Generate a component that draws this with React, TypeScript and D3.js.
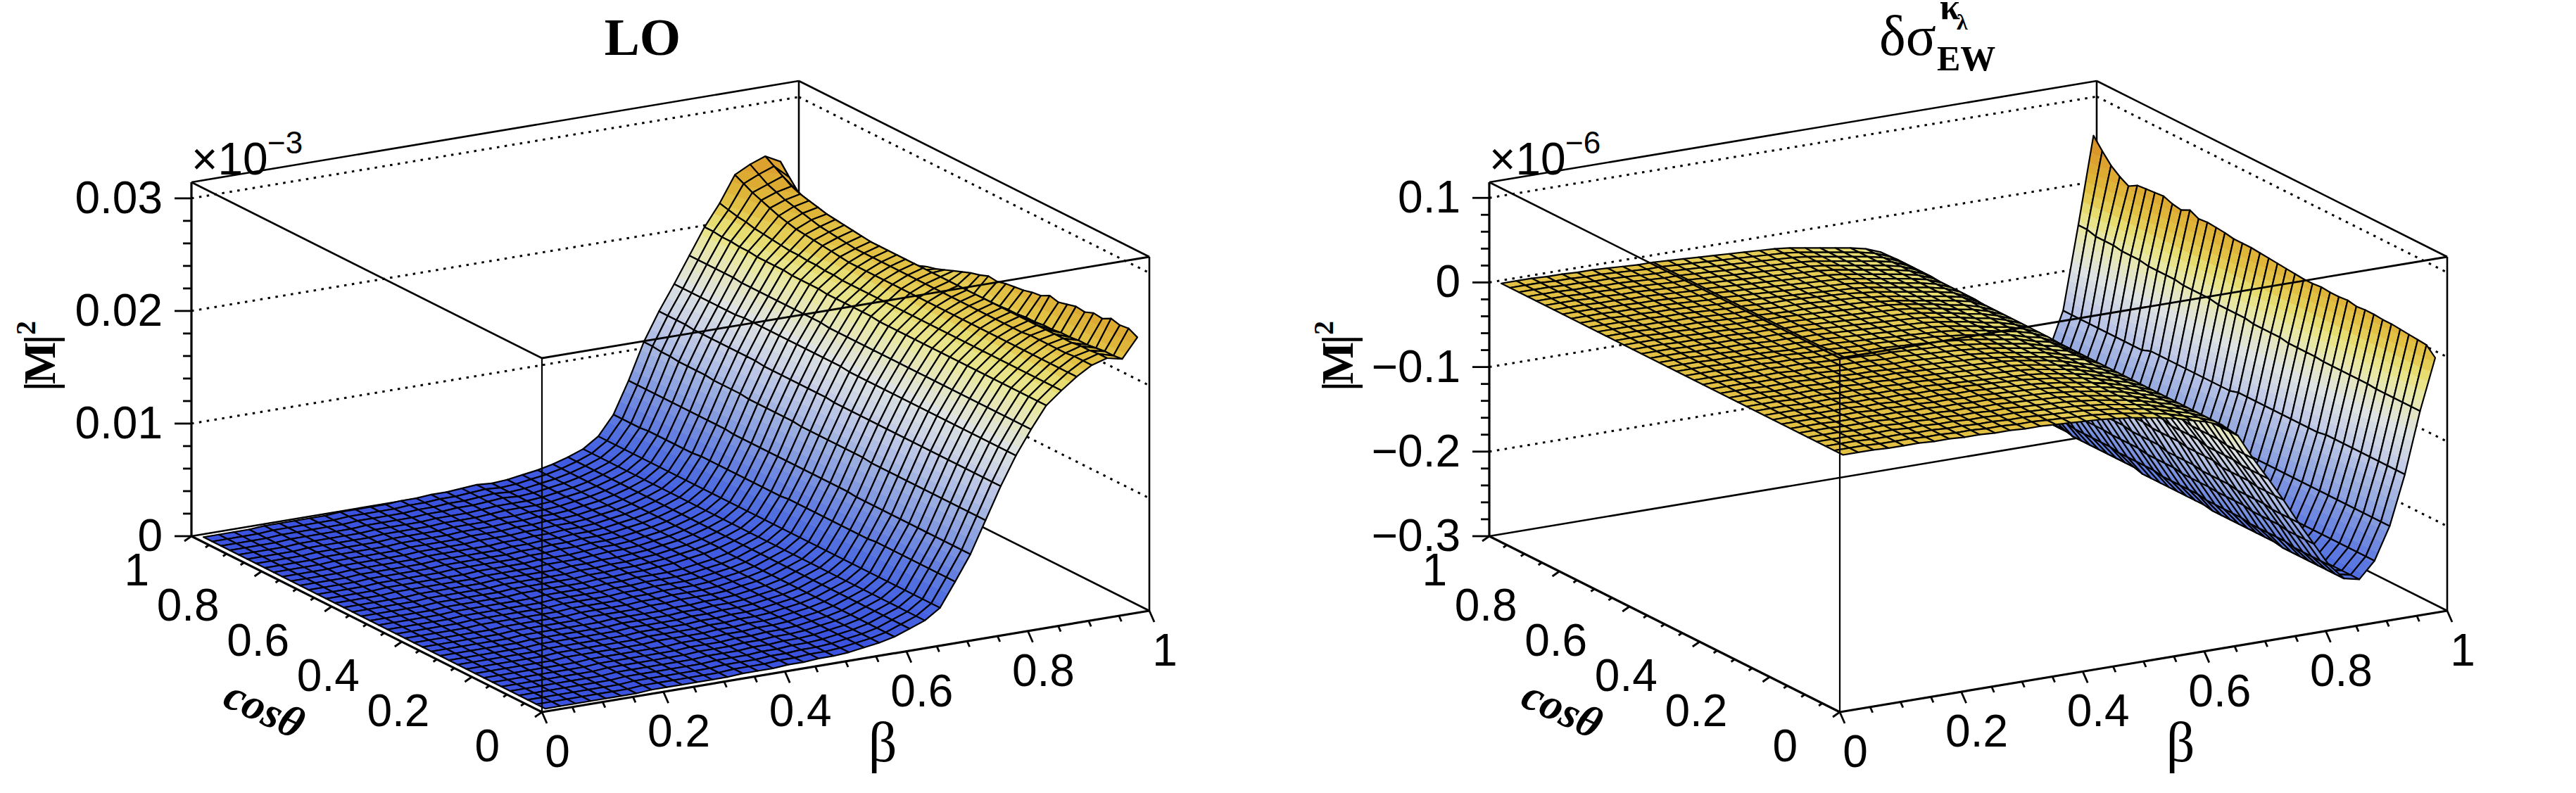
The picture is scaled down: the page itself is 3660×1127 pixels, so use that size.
import { useEffect, useRef } from 'react';
import * as d3 from 'd3';

// bin centres, 40 x 40
const betaBins = d3.range(40).map(i => 0.0125 + i * 0.025);
const cosBins = d3.range(40).map(i => 0.0125 + i * 0.025);

// surface values. One string per beta bin, cos bins left to right,
// written as value*repeat. LO is in units of 1e-4 of the axis, EW in units of 1e-3.
const loRows = [
  '0*40', '0*40', '0*40', '0*40', '0*24 1*16', '0*16 1*24', '0*8 1*32', '1*40', '1*40', '1*26 2*14',
  '1*20 2*20', '1*14 2*26', '1*8 2*32', '2*30 3*10', '2*24 3*16', '2*14 3*22 4*4', '3*26 4*14', '3*14 4*20 5*6', '4*24 5*12 6*4', '4*20 5*20',
  '5*20 6*20', '7*20 8*20', '9*20 10*20', '12*20 13*20', '17*40',
  '22*40',
  '31*40',
  '52*10 51*10 50*10 49*6 48*4',
  '74*14 75*14 76*12',
  '102*14 103*8 104*6 105*4 106*4 107*2 108*2',
  '130*20 131*8 132*8 133*4',
  '155*20 156*12 155*8',
  '176*24 177*10 178*6',
  '195*20 196*6 197*4 198*4 199*2 200*2 201*2',
  '206*26 207*2 208*2 209*2 210 211 212 213 215 216 218 220',
  '216*27 217 218 219 220 221 222 224 226 229 232 235 239 243',
  '224*3 223*5 222*20 223 224 225 226 228 230 232 234 237 240 245 250',
  '228*2 227*2 226*24 227 228 229 230 231 233 235 237 240 245 250 255',
  '225 224 224 223 222 222 221 221 220 220 219 219 218 218 217 217 216 216 215*5 214*6 215 215 216 217 218 220 222 225 229 238 248',
  '242 246 245 247 243 244 241 242 240 238 240 236 235 233 232 231 229 230 227 225 222 219 216 213 211 208 206 204 202 199 197 196 195 196 198 200 203 207 213 220',
];

const ewRows = [
  '0*40', '0*40', '0*40', '-1*40', '-1*40', '-1*20 -2*20', '-2*40', '-2*20 -3*20', '-3*20 -4*20', '-3*14 -4*13 -5*13',
  '-4*20 -5*20', '-4*14 -5*13 -6*13', '-5*14 -6*13 -7*13', '-5*10 -6*10 -7*10 -8*10', '-6*10 -7*10 -8*10 -9*10',
  '-7*10 -8*10 -9*10 -10*10', '-8*10 -9*10 -10*10 -11*10', '-9*10 -10*10 -11*10 -12*10', '-11*14 -12*13 -13*13', '-13*14 -14*13 -15*13',
  '-16*14 -17*13 -18*13', '-19*14 -20*13 -21*13', '-23*20 -24*20', '-28*20 -27*20', '-33*14 -32*13 -31*13',
  '-40*20 -39*10 -38*10',
  '-55*6 -54*6 -53*6 -52*6 -51*6 -50*5 -49*5',
  '-85*4 -83*4 -81*4 -79*4 -77*4 -75*4 -73*4 -70*4 -67*4 -64*4',
  '-112*4 -110*4 -107*4 -104*4 -102*4 -99*4 -96*4 -93*4 -91*4 -88*4',
  '-140*4 -138*4 -135*4 -133*4 -131*4 -129*4 -126*4 -124*4 -121*4 -118*4',
  '-170*4 -168*4 -166*4 -164*4 -161*4 -159*4 -157*4 -155*4 -152*4 -150*4',
  '-198*4 -196*4 -194*4 -193*4 -191*4 -189*4 -188*4 -186*4 -184*4 -182*4',
  '-226*5 -224*5 -222*5 -220*5 -218*5 -216*5 -214*5 -212*5',
  '-245*8 -243*8 -241*8 -238*8 -235*8',
  '-249*20 -248*20',
  '-230*10 -232*10 -235*10 -238*10',
  '-192*20 -191*10 -190*10',
  '-134*10 -136*10 -139*10 -143*10',
  '-62*6 -61*6 -60*4 -58*4 -56*4 -54*4 -52*4 -50*3 -48*3 -45*2',
  '-2 8 9 10 11 12 12 13 13 12 14 13 13 14 13 13 14 15 16 17 18 19 19 19 21 22 23 22 27 22 24 28 27 26 25 19 25 33 45 58',
];

const xyTicks = [0, 0.2, 0.4, 0.6, 0.8, 1];
const xyTickLabels = ['0', '0.2', '0.4', '0.6', '0.8', '1'];
const loZTicks = [0, 0.01, 0.02, 0.03];
const loZLabels = ['0', '0.01', '0.02', '0.03'];
const ewZTicks = [-0.3, -0.2, -0.1, 0, 0.1];
const ewZLabels = ['\u22120.3', '\u22120.2', '\u22120.1', '0', '0.1'];

// palette stops against height in the box
const paletteStops = [0, 0.1, 0.2, 0.3, 0.4, 0.5, 0.6, 0.65, 0.7, 0.75, 0.8, 0.85, 0.9];
const paletteColors = ['#3a50e0', '#4a68e0', '#6e87e0', '#96aae0', '#bec8e6', '#dee2e2', '#e8e8aa', '#e9e27c', '#e2c649', '#dfb236', '#dca02d', '#d68a28', '#cd732d'];
const bandWidth = 0.027;

const parseRow = (row: string) =>
  row.split(' ').flatMap(t => {
    const [v, n = '1'] = t.split('*');
    return d3.range(+n).map(() => +v);
  });

type Vertex = { x: number; y: number; h: number };

function clipBand(poly: Vertex[], lo: number, hi: number) {
  const clip = (pts: Vertex[], keep: (v: Vertex) => boolean, limit: number) => {
    const out: Vertex[] = [];
    pts.forEach((a, k) => {
      const b = pts[(k + 1) % pts.length];
      if (keep(a)) out.push(a);
      if (keep(a) !== keep(b)) {
        const t = (limit - a.h) / (b.h - a.h);
        out.push({ x: a.x + t * (b.x - a.x), y: a.y + t * (b.y - a.y), h: limit });
      }
    });
    return out;
  };
  const low = clip(poly, v => v.h >= lo, lo);
  return low.length ? clip(low, v => v.h <= hi, hi) : low;
}

interface PanelConfig {
  dx: number;
  grid: number[][];
  zDomain: [number, number];
  zTicks: number[];
  zLabels: string[];
  exponent: string;
}

function drawPanel(root: d3.Selection<SVGSVGElement, unknown, null, undefined>, cfg: PanelConfig) {
  const g = root.append('g').attr('transform', `translate(${cfg.dx},0)`);
  const originX = 770;
  const originY = 1012;
  const betaX = d3.scaleLinear().domain([0, 1]).range([0, 863]);
  const betaY = d3.scaleLinear().domain([0, 1]).range([0, -144]);
  const cosX = d3.scaleLinear().domain([0, 1]).range([0, -498]);
  const cosY = d3.scaleLinear().domain([0, 1]).range([0, -250]);
  const zNorm = d3.scaleLinear().domain(cfg.zDomain).range([0, 1]);
  const boxHeight = 503;
  const palette = d3.scaleLinear<string>().domain(paletteStops).range(paletteColors).clamp(true);

  const px = (b: number, c: number) => originX + betaX(b) + cosX(c);
  const py = (b: number, c: number, h: number) => originY + betaY(b) + cosY(c) - h * boxHeight;
  const line = d3.line();
  const seg = (x1: number, y1: number, x2: number, y2: number, w = 2.6) =>
    g.append('line').attr('x1', x1).attr('y1', y1).attr('x2', x2).attr('y2', y2).attr('stroke', '#000').attr('stroke-width', w);

  // back of the box
  seg(px(0, 1), py(0, 1, 0), px(1, 1), py(1, 1, 0));
  seg(px(1, 1), py(1, 1, 0), px(1, 0), py(1, 0, 0));
  seg(px(1, 1), py(1, 1, 0), px(1, 1), py(1, 1, 1));
  seg(px(0, 1), py(0, 1, 1), px(1, 1), py(1, 1, 1));
  seg(px(1, 1), py(1, 1, 1), px(1, 0), py(1, 0, 1));
  cfg.zTicks.forEach(t => {
    const h = zNorm(t);
    if (h < 0.001) return;
    [[0, 1, 1, 1], [1, 1, 1, 0]].forEach(([b1, c1, b2, c2]) => {
      seg(px(b1, c1), py(b1, c1, h), px(b2, c2), py(b2, c2, h), 3).attr('stroke-dasharray', '3.5 7.5');
    });
  });

  // surface, far cells first
  const cells = g.append('g');
  for (let i = 38; i >= 0; i--) {
    for (let j = 38; j >= 0; j--) {
      const quad: Vertex[] = [
        [i, j],
        [i + 1, j],
        [i + 1, j + 1],
        [i, j + 1],
      ].map(([a, b]) => {
        const h = zNorm(cfg.grid[a][b]);
        return { x: px(betaBins[a], cosBins[b]), y: py(betaBins[a], cosBins[b], h), h };
      });
      const hs = quad.map(v => v.h);
      const first = Math.floor(d3.min(hs)! / bandWidth);
      const last = Math.floor(d3.max(hs)! / bandWidth);
      for (let k = first; k <= last; k++) {
        const part = clipBand(quad, k * bandWidth, (k + 1) * bandWidth);
        if (part.length < 3) continue;
        const colour = palette((k + 0.5) * bandWidth);
        cells
          .append('path')
          .attr('d', line(part.map(v => [v.x, v.y]))! + 'Z')
          .attr('fill', colour)
          .attr('stroke', colour)
          .attr('stroke-width', 0.7);
      }
      cells
        .append('path')
        .attr('d', line(quad.map(v => [v.x, v.y]))! + 'Z')
        .attr('fill', 'none')
        .attr('stroke', '#000')
        .attr('stroke-width', 2.2)
        .attr('stroke-linejoin', 'round');
    }
  }

  // front of the box goes over the surface
  seg(px(0, 0), py(0, 0, 0), px(0, 0), py(0, 0, 1), 2.2);
  seg(px(1, 0), py(1, 0, 0), px(1, 0), py(1, 0, 1), 2.6);
  seg(px(0, 1), py(0, 1, 1), px(0, 0), py(0, 0, 1));
  seg(px(0, 0), py(0, 0, 1), px(1, 0), py(1, 0, 1), 2.8);
  seg(px(0, 1), py(0, 1, 0), px(0, 1), py(0, 1, 1), 3.2);
  seg(px(0, 1), py(0, 1, 0), px(0, 0), py(0, 0, 0), 3.2);
  seg(px(0, 0), py(0, 0, 0), px(1, 0), py(1, 0, 0), 3.2);

  const sans = 'Liberation Sans, sans-serif';
  const serif = 'Liberation Serif, serif';
  const label = (x: number, y: number, s: string, anchor: string, size = 64, family = sans) =>
    g.append('text').attr('x', x).attr('y', y).attr('text-anchor', anchor).attr('font-family', family).attr('font-size', size).attr('fill', '#000').text(s);

  // beta and cos axes
  d3.range(0, 21).forEach(k => {
    const t = k * 0.05;
    const major = k % 4 === 0;
    const len = major ? 1 : 0.5;
    seg(px(t, 0), py(t, 0, 0), px(t, 0) + 7 * len, py(t, 0, 0) + 16 * len, 2.8);
    seg(px(0, t), py(0, t, 0), px(0, t) - 10 * len, py(0, t, 0) + 7 * len, 2.8);
  });
  xyTicks.forEach((t, k) => {
    label(px(t, 0) + 22, py(t, 0, 0) + 78, xyTickLabels[k], 'middle');
    label(px(0, t) - 60, py(0, t, 0) + 70, xyTickLabels[k], 'end');
  });
  label(1254, 1082, '\u03b2', 'middle', 80, serif);
  g.append('text')
    .attr('transform', 'translate(314,1002) rotate(25)')
    .attr('font-family', serif)
    .attr('font-size', 63)
    .attr('font-weight', 'bold')
    .attr('font-style', 'italic')
    .text('cos\u03b8');

  // z axis
  const step = (cfg.zTicks[1] - cfg.zTicks[0]) / 5;
  const zMinorCount = Math.floor((cfg.zDomain[1] - cfg.zDomain[0]) / step + 1e-6);
  d3.range(zMinorCount + 1).forEach(k => {
    const h = zNorm(cfg.zDomain[0] + k * step);
    const len = k % 5 === 0 ? 24 : 12;
    seg(px(0, 1), py(0, 1, h), px(0, 1) - len, py(0, 1, h), 2.8);
  });
  cfg.zTicks.forEach((t, k) => {
    label(231, py(0, 1, zNorm(t)) + 21, cfg.zLabels[k], 'end');
  });
  label(272, 248, '\u00d710', 'start');
  label(380, 218, cfg.exponent, 'start', 44);

  g.append('text').attr('transform', 'translate(78,556) rotate(-90)').attr('font-family', serif).attr('font-size', 64).attr('font-weight', 'bold').attr('letter-spacing', -4).text('|M|');
  g.append('text').attr('transform', 'translate(50,476) rotate(-90)').attr('font-family', serif).attr('font-size', 40).attr('font-weight', 'bold').text('2');

  return g;
}

export default function App() {
  const svgRef = useRef<SVGSVGElement>(null);

  useEffect(() => {
    if (!svgRef.current) return;
    const svg = d3.select(svgRef.current);
    svg.selectAll('*').remove();

    const loGrid = loRows.map(r => parseRow(r).map(v => v / 10000));
    const ewGrid = ewRows.map(r => parseRow(r).map(v => v / 1000));

    drawPanel(svg, { dx: 0, grid: loGrid, zDomain: [0, 0.03143], zTicks: loZTicks, zLabels: loZLabels, exponent: '\u22123' });
    drawPanel(svg, { dx: 1844, grid: ewGrid, zDomain: [-0.3, 0.1185], zTicks: ewZTicks, zLabels: ewZLabels, exponent: '\u22126' });

    const title = (x: number, y: number, s: string, size: number, anchor = 'start', weight = 'bold') =>
      svg.append('text').attr('x', x).attr('y', y).attr('text-anchor', anchor).attr('font-family', 'Liberation Serif, serif').attr('font-weight', weight).attr('font-size', size).text(s);
    title(913, 78, 'LO', 75, 'middle');
    title(2670, 78, '\u03b4\u03c3', 80, 'start', 'normal');
    title(2756, 27, '\u03ba', 52);
    title(2780, 42, '\u03bb', 32);
    title(2752, 100, 'EW', 50);
  }, []);

  return <svg ref={svgRef} width={3660} height={1127} style={{ position: 'absolute', left: 0, top: 0, background: '#fff' }}></svg>;
}
